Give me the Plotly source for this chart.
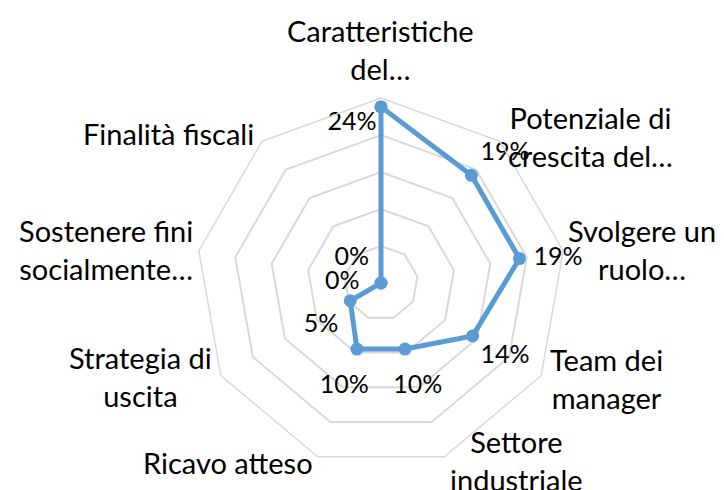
import plotly.graph_objects as go

categories = [
    "Caratteristiche del…",
    "Potenziale di crescita del…",
    "Svolgere un ruolo…",
    "Team dei manager",
    "Settore industriale",
    "Ricavo atteso",
    "Strategia di uscita",
    "Sostenere fini socialmente…",
    "Finalità fiscali",
]
category_labels = [
    "Caratteristiche<br>del…",
    "Potenziale di<br>crescita del…",
    "Svolgere un<br>ruolo…",
    "Team dei<br>manager",
    "Settore<br>industriale",
    "Ricavo atteso",
    "Strategia di<br>uscita",
    "Sostenere fini<br>socialmente…",
    "Finalità fiscali",
]
values = [0.238, 0.190, 0.190, 0.143, 0.095, 0.095, 0.048, 0.0, 0.0]

# ---- layout-only settings (not data) ----
W, H = 724, 490
OFF = 8  # page body margin in the browser
label_positions = ["bottom left", "top right", "middle right", "bottom right",
                   "bottom center", "bottom center", "bottom left", "middle left", "top left"]
label_offsets = [5.6, 13, 20.8, 11, 38, 38, 17.6, 32.8, 17.6]  # invisible marker sizes -> label distance
label_nudge = [0, 0, 0, 0, 4, -4, 0, 0, 0]  # horizontal nudge in non-breaking spaces
cat_label_px = [(380, 49), (590, 136), (642, 250), (606, 378), (516, 460),
                (228, 462), (140, 376), (106, 249), (168, 134)]
cx, cy, rad = 381, 283, 185
POLE = 1e-9  # plotly hides points exactly at the pole of a polygon grid; draw them a hair off it

NBSP = "\u00a0"
labels = []
for v, n in zip(values, label_nudge):
    t = f"{round(v * 100)}%"
    labels.append(NBSP * n + t if n > 0 else t + NBSP * (-n))

r_plot = [v if v > 0 else POLE for v in values]
r = r_plot + r_plot[:1]
theta = categories + categories[:1]

fig = go.Figure()
fig.add_trace(go.Scatterpolar(
    r=r, theta=theta, mode="lines+markers",
    line=dict(color="#5b9bd5", width=5),
    marker=dict(color="#5b9bd5", size=13, line=dict(width=0)),
    cliponaxis=False, showlegend=False, hoverinfo="skip",
))
fig.add_trace(go.Scatterpolar(
    r=r_plot, theta=categories, mode="markers+text",
    text=labels,
    textposition=label_positions,
    textfont=dict(family="Lato", size=25, color="#000000"),
    marker=dict(color="rgba(0,0,0,0)", size=label_offsets, opacity=0, line=dict(width=0)),
    cliponaxis=False, showlegend=False, hoverinfo="skip",
))

annotations = []
for lab, (px, py) in zip(category_labels, cat_label_px):
    annotations.append(dict(
        text=lab, x=(px - OFF) / W, y=1 - (py - OFF) / H, xref="paper", yref="paper",
        xanchor="center", yanchor="middle", align="center", showarrow=False,
        font=dict(family="Lato", size=29, color="#000000"),
    ))

pcx, pcy = cx - OFF, cy - OFF
fig.update_layout(
    width=W, height=H,
    margin=dict(l=0, r=0, t=0, b=0),
    paper_bgcolor="white",
    plot_bgcolor="white",
    font=dict(family="Lato", color="#000000"),
    annotations=annotations,
    polar=dict(
        domain=dict(x=[(pcx - rad) / W, (pcx + rad) / W], y=[1 - (pcy + rad) / H, 1 - (pcy - rad) / H]),
        bgcolor="white",
        gridshape="linear",
        radialaxis=dict(range=[0, 0.25], dtick=0.05, tick0=0, showgrid=True, gridcolor="#d9d9d9",
                        gridwidth=1.5, showline=False, showticklabels=False, ticks=""),
        angularaxis=dict(rotation=90, direction="clockwise", showgrid=False,
                         showline=True, linecolor="#d9d9d9", linewidth=1.5, ticks="",
                         showticklabels=False),
    ),
)

fig.write_html("out.html")
